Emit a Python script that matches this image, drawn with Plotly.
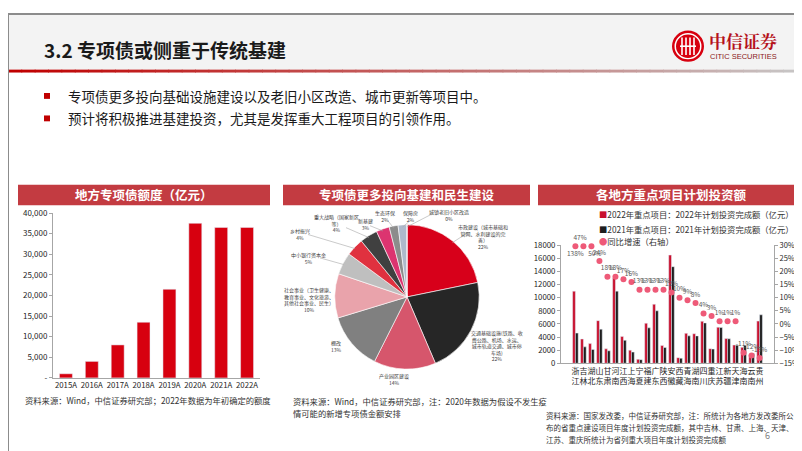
import plotly.graph_objects as go
import numpy as np

W, H = 802, 451
def px(x): return x / W
def py(y): return 1 - y / H

FONT = "Noto Sans CJK SC"

# ---------------- data ----------------
years = ['2015A', '2016A', '2017A', '2018A', '2019A', '2020A', '2021A', '2022A']
special_bond = [1000, 4000, 8000, 13500, 21500, 37500, 36500, 36500]

pie_labels = ['市政建设', '交通基础设施', '产业园区建设', '棚改', '社会事业', '中小银行资本金',
              '乡村振兴', '重大战略', '新基建', '生态环保', '保障房', '城镇老旧小区改造']
pie_values = [22, 22, 14, 13, 10, 5, 4, 4, 3, 2, 2, 0]
pie_colors = ['#D7001A', '#262626', '#D6566C', '#808080', '#E9A3AB', '#BFBFBF',
              '#E0313F', '#404040', '#DC3470', '#8C8C8C', '#AEB9CB', '#FFFFFF']

provinces = ['浙江', '吉林', '湖北', '山东', '甘肃', '河南', '江西', '上海', '宁夏', '福建', '广东', '陕西',
             '安徽', '西藏', '青海', '湖南', '四川', '重庆', '江苏', '新疆', '天津', '海南', '云南', '贵州']
plan_2022 = [11000, 3700, 3000, 6500, 2200, 13000, 4100, 2000, 600, 6100, 9000, 2700,
             16500, 850, 4560, 4500, 6400, 2230, 5500, 3770, 2780, 2430, 1310, 6430]
plan_2021 = [4600, 2500, 2100, 5200, 1900, 11000, 3500, 1700, 550, 5400, 8000, 2400,
             14730, 770, 4180, 4170, 6150, 2165, 5450, 3730, 2750, 2730, 1490, 7390]
growth = [138, 50, 47, 24, 18, 18, 17, 16, 13, 13, 13, 13,
          12, 10, 9, 8, 4, 3, 1, 1, 1, -11, -12, -13]

fig = go.Figure()

# ---------------- left bar chart ----------------
fig.add_trace(go.Bar(x=years, y=special_bond, marker_color='#D7000F', width=0.5,
                     xaxis='x', yaxis='y', showlegend=False))

# ---------------- pie ----------------
fig.add_trace(go.Pie(labels=pie_labels, values=pie_values, sort=False, direction='clockwise',
                     rotation=0, marker=dict(colors=pie_colors, line=dict(color='white', width=0.6)),
                     textinfo='none', hoverinfo='label+percent', showlegend=False,
                     domain=dict(x=[px(325), px(473)], y=[py(364), py(216)])))

# ---------------- right chart ----------------
fig.add_trace(go.Bar(x=provinces, y=plan_2022, marker_color='#C8102E', xaxis='x2', yaxis='y2',
                     name='2022', showlegend=False))
fig.add_trace(go.Bar(x=provinces, y=plan_2021, marker_color='#1E1E1E', xaxis='x2', yaxis='y2',
                     name='2021', showlegend=False))
tpos = ['bottom center', 'bottom right', 'top left'] + ['top center'] * (len(growth) - 3)
fig.add_trace(go.Scatter(x=provinces, y=np.minimum(np.array(growth, dtype=float), 29.6),
                         mode='markers+text', text=[f'{g}%' for g in growth], textposition=tpos,
                         textfont=dict(size=6.5, color='#595959'),
                         marker=dict(color='#EE5A78', size=6), cliponaxis=False,
                         xaxis='x2', yaxis='y3', showlegend=False))

axis_line = '#A6A6A6'
fig.update_layout(
    width=W, height=H, autosize=False, margin=dict(l=0, r=0, t=0, b=0),
    paper_bgcolor='white', plot_bgcolor='rgba(0,0,0,0)',
    font=dict(family=FONT, color='#262626'),
    barmode='group', bargap=0.3, bargroupgap=0,
    xaxis=dict(domain=[px(45), px(252)], anchor='y', showline=True, linecolor=axis_line,
               ticks='', tickangle=0, tickfont=dict(size=7.8, color='#262626'), fixedrange=True),
    yaxis=dict(domain=[py(373), py(204)], anchor='x', range=[0, 40000],
               tickvals=list(range(0, 40001, 5000)),
               ticktext=['-'] + [f'{v:,}' for v in range(5000, 40001, 5000)],
               showline=True, linecolor=axis_line, ticks='outside', ticklen=3, tickcolor=axis_line,
               showgrid=False, zeroline=False, tickfont=dict(size=8, color='#262626')),
    xaxis2=dict(domain=[px(553), px(766)], anchor='y2', showline=True, linecolor=axis_line,
                ticks='', tickvals=provinces, ticktext=['<br>'.join(p) for p in provinces],
                tickangle=0, tickfont=dict(size=8, color='#262626')),
    yaxis2=dict(domain=[py(358), py(237)], anchor='x2', range=[0, 18000], dtick=2000,
                tickformat='d',
                showline=True, linecolor=axis_line, ticks='outside', ticklen=3, tickcolor=axis_line,
                showgrid=False, zeroline=False, tickfont=dict(size=7.8, color='#262626')),
    yaxis3=dict(overlaying='y2', side='right', anchor='x2', range=[-15, 30], dtick=5,
                ticksuffix='%', showline=True, linecolor=axis_line, ticks='outside', ticklen=3,
                tickcolor=axis_line, showgrid=False, zeroline=False,
                tickfont=dict(size=7.5, color='#262626')),
)

shapes = []
ann = []

# header background
shapes.append(dict(type='rect', xref='paper', yref='paper', x0=0, x1=1, y0=py(57), y1=1,
                   fillcolor='#F3F3F3', line=dict(width=0), layer='below'))
# gradient line under header
n = 60
c0 = np.array([192, 0, 0]); c1 = np.array([200, 200, 200])
for i in range(n):
    t = i / (n - 1)
    c = (c0 * (1 - t) + c1 * t).astype(int)
    shapes.append(dict(type='rect', xref='paper', yref='paper', x0=i / n, x1=(i + 1) / n + 0.001,
                       y0=py(60), y1=py(57), fillcolor=f'rgb({c[0]},{c[1]},{c[2]})',
                       line=dict(width=0), layer='below'))
# border
shapes.append(dict(type='rect', xref='paper', yref='paper', x0=0, x1=1, y0=0, y1=1,
                   line=dict(color='#8C8C8C', width=2), fillcolor='rgba(0,0,0,0)'))

# title
ann.append(dict(text='<b>3.2 专项债或侧重于传统基建</b>', x=px(34), y=py(36), xref='paper', yref='paper',
                xanchor='left', yanchor='middle', showarrow=False,
                font=dict(size=19, color='#1A1A1A', family=FONT)))

# logo
lx, ly = 680, 33
for r, col in [(16, '#D7000F'), (13.5, 'white'), (12, '#D7000F')]:
    shapes.append(dict(type='circle', xref='paper', yref='paper', x0=px(lx - r), x1=px(lx + r),
                       y0=py(ly + r), y1=py(ly - r), fillcolor=col, line=dict(width=0)))
for dx in [-6, -2, 2, 6]:
    shapes.append(dict(type='rect', xref='paper', yref='paper', x0=px(lx + dx - 0.8), x1=px(lx + dx + 0.8),
                       y0=py(ly + 9), y1=py(ly - 9), fillcolor='white', line=dict(width=0)))
shapes.append(dict(type='rect', xref='paper', yref='paper', x0=px(lx - 8), x1=px(lx + 8),
                   y0=py(ly + 0.8), y1=py(ly - 0.8), fillcolor='white', line=dict(width=0)))
ann.append(dict(text='<b>中信证券</b>', x=px(699), y=py(27), xref='paper', yref='paper',
                xanchor='left', yanchor='middle', showarrow=False,
                font=dict(size=17, color='#B5121B', family='Noto Serif CJK SC, ' + FONT)))
ann.append(dict(text='CITIC SECURITIES', x=px(700), y=py(44), xref='paper', yref='paper',
                xanchor='left', yanchor='middle', showarrow=False,
                font=dict(size=7.5, color='#8B1A1A', family='Liberation Sans Narrow, Liberation Sans')))

# bullets
for yb, txt in [(84, '专项债更多投向基础设施建设以及老旧小区改造、城市更新等项目中。'),
                (107, '预计将积极推进基建投资，尤其是发挥重大工程项目的引领作用。')]:
    shapes.append(dict(type='rect', xref='paper', yref='paper', x0=px(36), x1=px(42),
                       y0=py(yb + 3), y1=py(yb - 3), fillcolor='#C00000', line=dict(width=0)))
    ann.append(dict(text=txt, x=px(58), y=py(yb), xref='paper', yref='paper',
                    xanchor='left', yanchor='middle', showarrow=False,
                    font=dict(size=13.5, color='#1A1A1A', family=FONT)))

# section title bars
for x0, x1, txt in [(10, 262, '地方专项债额度（亿元）'), (275, 522, '专项债更多投向基建和民生建设'),
                    (530, 796, '各地方重点项目计划投资额')]:
    shapes.append(dict(type='rect', xref='paper', yref='paper', x0=px(x0), x1=px(x1),
                       y0=py(196), y1=py(175), fillcolor='#C33B41', line=dict(width=0)))
    ann.append(dict(text=f'<b>{txt}</b>', x=px((x0 + x1) / 2), y=py(185.5), xref='paper', yref='paper',
                    xanchor='center', yanchor='middle', showarrow=False,
                    font=dict(size=12.5, color='white', family=FONT)))

# pie labels
pie_label_text = {
    0: ('市政建设（城市基础和<br>管网、水利建设的完<br>善）<br>22%', 475, 228, 'center'),
    1: ('交通基础设施(铁路、收<br>费公路、机场、水运、<br>城市轨道交通、城市停<br>车场)<br>22%', 489, 340, 'center'),
    2: ('产业园区建设<br>14%', 386, 374, 'center'),
    3: ('棚改<br>13%', 328, 340, 'center'),
    4: ('社会事业（卫生健康、<br>教育事业、文化旅游、<br>其他社会事业、民生）<br>10%', 301, 293, 'center'),
    5: ('中小银行资本金<br>5%', 300, 250, 'center'),
    6: ('乡村振兴<br>4%', 292, 225, 'center'),
    7: ('重大战略（国家新区<br>等）<br>4%', 328, 214, 'center'),
    8: ('新基建<br>3%', 357, 215, 'center'),
    9: ('生态环保<br>2%', 377, 207, 'center'),
    10: ('保障房<br>2%', 403, 207, 'center'),
    11: ('城镇老旧小区改造<br>0%', 441, 206, 'center'),
}
for i, (t, x, y, a) in pie_label_text.items():
    ann.append(dict(text=t, x=px(x), y=py(y), xref='paper', yref='paper', xanchor=a, yanchor='middle',
                    showarrow=False, align='center', font=dict(size=5, color='#404040', family=FONT)))

# leader lines from label anchors to slice edges (computed from data)
cx, cy, rr = 399, 290, 74
total = sum(pie_values)
cum = np.cumsum([0] + pie_values[:-1])
leader_start = {0: (460, 224), 5: (312, 250), 6: (300, 226), 7: (338, 219), 8: (362, 217),
                9: (380, 212), 10: (402, 212), 11: (424, 205)}
for i, (sx, sy) in leader_start.items():
    th = np.deg2rad(360 * (cum[i] + pie_values[i] / 2) / total)
    ex, ey = cx + rr * 0.97 * np.sin(th), cy - rr * 0.97 * np.cos(th)
    shapes.append(dict(type='line', xref='paper', yref='paper', x0=px(sx), y0=py(sy),
                       x1=px(ex), y1=py(ey), line=dict(color='#A6A6A6', width=0.6)))

# right chart legend
for yl, sym, col, txt in [(205, '■', '#C8102E', '2022年重点项目：2022年计划投资完成额（亿元）'),
                          (220, '■', '#1E1E1E', '2021年重点项目：2021年计划投资完成额（亿元）'),
                          (233, '●', '#EE5A78', '同比增速（右轴）')]:
    ann.append(dict(text=f"<span style='color:{col}'>{sym}</span>{txt}", x=px(589), y=py(yl),
                    xref='paper', yref='paper', xanchor='left', yanchor='middle', showarrow=False,
                    font=dict(size=8.3, color='#333333', family=FONT)))

# sources (one annotation per line)
src = [
    ('资料来源：Wind，中信证券研究部；2022年数据为年初确定的额度', 15, 396, 8.3),
    ('资料来源：Wind，中信证券研究部，注：2020年数据为假设不发生疫', 283, 397, 8.3),
    ('情可能的新增专项债金额安排', 283, 409, 8.3),
    ('资料来源：国家发改委，中信证券研究部，注：所统计为各地方发改委所公', 536, 412, 7.5),
    ('布的省重点建设项目年度计划投资完成额，其中吉林、甘肃、上海、天津、', 536, 424, 7.5),
    ('江苏、重庆所统计为省列重大项目年度计划投资完成额', 536, 436, 7.5),
]
for t, x, y, fs in src:
    ann.append(dict(text=t, x=px(x), y=py(y), xref='paper', yref='paper', xanchor='left', yanchor='middle',
                    showarrow=False, align='left', font=dict(size=fs, color='#333333', family=FONT)))

ann.append(dict(text='6', x=px(764), y=py(441), xref='paper', yref='paper', showarrow=False,
                font=dict(size=9, color='#7F7F7F', family=FONT)))

fig.update_layout(shapes=shapes, annotations=ann)
fig.write_html('out.html')
